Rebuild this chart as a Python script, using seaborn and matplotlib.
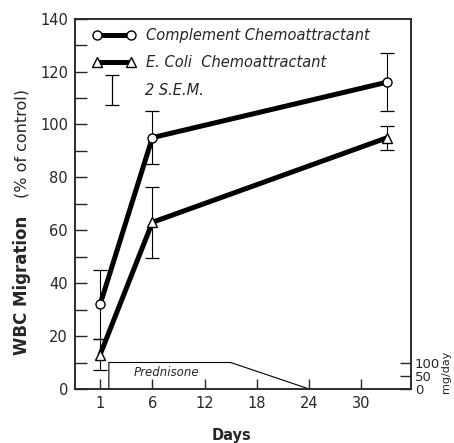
import numpy as np
import pandas as pd
import matplotlib
matplotlib.use('Agg')
import matplotlib.pyplot as plt
import seaborn as sns

# data
# x position of each sampling day (first tick on the axis is labelled "1")
day_pos = [0, 6, 33]
complement = [32, 95, 116]
complement_err = [13, 10, 11]
ecoli = [13, 63, 95]
ecoli_err = [6, 13.5, 4.5]

series_names = ['Complement Chemoattractant', 'E. Coli  Chemoattractant']

x_ticks = [0, 6, 12, 18, 24, 30]
x_ticklabels = ['1', '6', '12', '18', '24', '30']

# prednisone dose schedule (mg/day)
pred_days = [1, 1, 15, 24]
pred_dose = [0, 100, 100, 0]

# legend key for 2 S.E.M.
sem_center = 113
sem_half = 5.5

#%%
sns.set_style('ticks')
plt.rcParams['font.family'] = ['DejaVu Sans']
plt.rcParams['mathtext.fontset'] = 'dejavusans'

df = pd.DataFrame({
    'day': day_pos * 2,
    'value': complement + ecoli,
    'series': [series_names[0]] * 3 + [series_names[1]] * 3,
})

fig = plt.figure(figsize=(4.54, 4.43), dpi=100)
ax = fig.add_axes([0.165, 0.122, 0.74, 0.836])

sns.lineplot(data=df, x='day', y='value', hue='series', style='series',
             palette=['black', 'black'], markers=['o', '^'], dashes=False,
             lw=3.6, markersize=6.5, markerfacecolor='white',
             markeredgecolor='black', markeredgewidth=1.0, ax=ax, zorder=3)

# error bars (2 S.E.M.)
ax.errorbar(day_pos, complement, yerr=complement_err, fmt='none', ecolor='black',
            elinewidth=0.8, capsize=5, capthick=0.9, zorder=2)
ax.errorbar(day_pos, ecoli, yerr=ecoli_err, fmt='none', ecolor='black',
            elinewidth=0.8, capsize=5, capthick=0.9, zorder=2)

ax.set_xlim(-2.9, 35.7)
ax.set_ylim(0, 140)
ax.set_xticks(x_ticks)
ax.set_xticklabels(x_ticklabels)
ax.set_yticks(np.arange(0, 141, 20))
ax.set_yticks(np.arange(10, 140, 20), minor=True)
ax.tick_params(axis='y', which='both', direction='in', length=8.5, width=1,
               labelsize=10.5, pad=5)
ax.tick_params(axis='x', direction='in', length=7, width=1, labelsize=10.5, pad=5)

for s in ax.spines.values():
    s.set_linewidth(1.1)
    s.set_visible(True)

ax.set_ylabel('')
fig.text(22 / 454, 1 - 285 / 443, 'WBC Migration', rotation=90, fontweight='bold',
         fontsize=12, ha='center', va='center')
fig.text(22 / 454, 1 - 144 / 443, '(% of control)', rotation=90,
         fontsize=11.5, ha='center', va='center')
ax.set_xlabel('Days', fontweight='bold', fontsize=10.5)
ax.xaxis.set_label_coords(0.467, -0.105)

# legend
handles, labels = ax.get_legend_handles_labels()
leg = ax.legend(handles=handles, labels=labels, loc='upper left',
                bbox_to_anchor=(0.015, 1.01), frameon=False, numpoints=2,
                handlelength=2.9, labelspacing=0.8, handletextpad=0.7,
                prop={'style': 'italic', 'size': 10.5})
for h in leg.legend_handles:
    h.set_linewidth(3.6)
    h.set_markerfacecolor('white')

# 2 S.E.M. key
key_tr = ax.get_yaxis_transform()
ax.errorbar([0.11], [sem_center], yerr=[sem_half], fmt='none', ecolor='black',
            elinewidth=0.9, capsize=5, capthick=0.9, transform=key_tr)
ax.text(0.208, sem_center, '2 S.E.M.', transform=key_tr, style='italic',
        fontsize=10.5, va='center', ha='left')

# prednisone schedule on right axis
ax2 = ax.twinx()
ax2.set_ylim(0, 1400)
sns.lineplot(x=pred_days, y=pred_dose, sort=False, color='black', lw=0.8,
             ax=ax2, estimator=None)
ax2.set_yticks([0, 50, 100])
ax2.tick_params(axis='y', direction='in', length=8, width=1, labelsize=9.5, pad=3)
ax2.set_xlim(-2.9, 35.7)
ax2.text(7.6, 62, 'Prednisone', style='italic', fontsize=8.5, ha='center', va='center')
for s in ax2.spines.values():
    s.set_linewidth(1.1)

fig.text(441 / 454, 1 - 372 / 443, 'mg/day', rotation=90, ha='left', va='center',
         fontsize=8)

fig.savefig('out.png', dpi=100)
